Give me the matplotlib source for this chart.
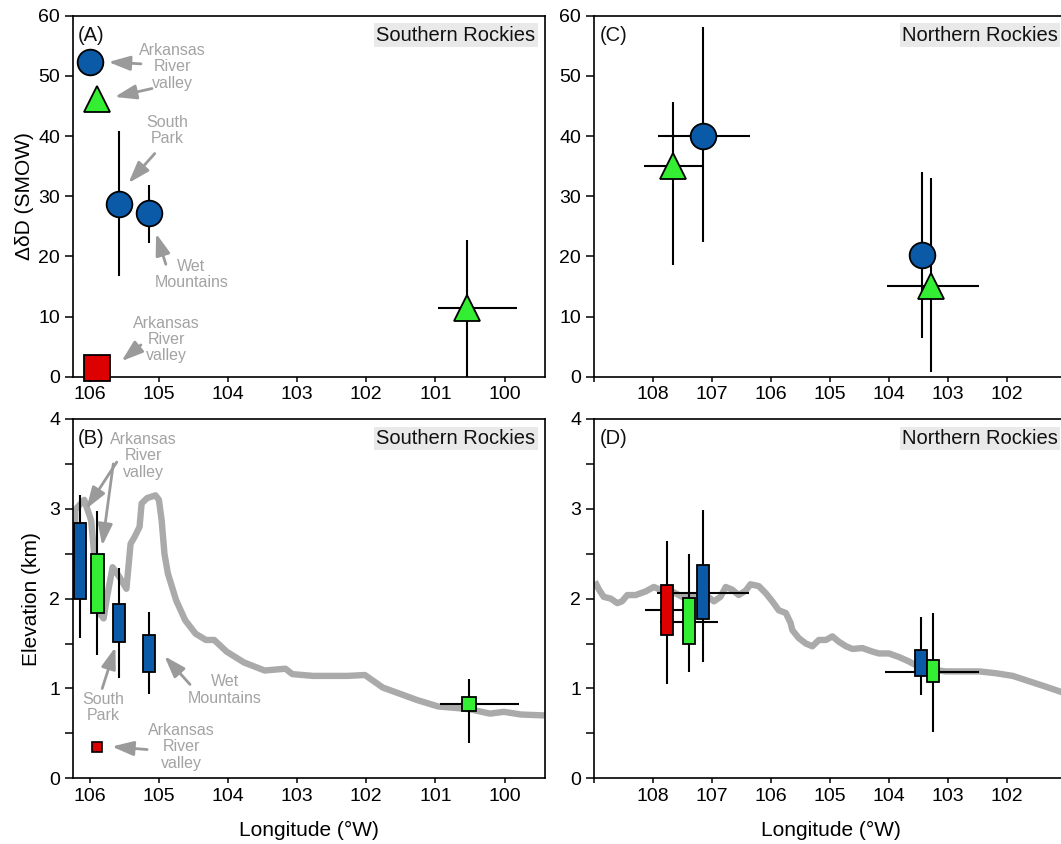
import matplotlib
matplotlib.use("Agg")
import matplotlib.pyplot as plt
import numpy as np

plt.rcParams['font.family'] = ['Liberation Sans', 'DejaVu Sans']

# ---------------- data ----------------
BLUE = '#0b5aa8'
GREEN = '#33ee33'
RED = '#dd0000'

# (A) Southern Rockies, delta-delta-D (SMOW)
sr_circle_lon = [106.00, 105.58, 105.15]
sr_circle_dd = [52.3, 28.7, 27.25]
sr_circle_lo = [52.3, 16.7, 22.2]
sr_circle_hi = [52.3, 40.9, 31.8]

sr_tri_lon = [105.89, 100.54]
sr_tri_dd = [46.1, 11.5]
sr_tri_lo = [46.1, 0.0]
sr_tri_hi = [46.1, 22.8]
sr_tri_west = [105.89, 100.96]
sr_tri_east = [105.89, 99.82]

sr_sq_lon = [105.90]
sr_sq_dd = [1.4]

# (B) Southern Rockies, elevation estimates (km)
sr_box_lon = [106.14, 105.89, 105.58, 105.14]
sr_box_q1 = [2.00, 1.84, 1.52, 1.18]
sr_box_q3 = [2.84, 2.50, 1.94, 1.60]
sr_box_min = [1.56, 1.37, 1.12, 0.94]
sr_box_max = [3.15, 2.975, 2.34, 1.85]
sr_box_col = [BLUE, GREEN, BLUE, BLUE]

sr_red_lon = [105.89]
sr_red_elev = [0.353]

sr_gsq_lon = [100.51]
sr_gsq_elev = [0.83]
sr_gsq_lo = [0.39]
sr_gsq_hi = [1.10]
sr_gsq_west = [100.93]
sr_gsq_east = [99.79]

sr_prof_lon = [106.22, 106.21, 106.08, 105.98, 105.92, 105.85, 105.80, 105.75,
               105.67, 105.57, 105.47, 105.41, 105.35, 105.28, 105.25, 105.17,
               105.05, 105.00, 104.96, 104.92, 104.87, 104.75, 104.62, 104.47,
               104.32, 104.20, 104.02, 103.77, 103.47, 103.17, 103.07, 102.77,
               102.27, 102.02, 101.76, 101.26, 100.96, 100.51, 100.21, 100.01,
               99.76, 99.42]
sr_prof_elev = [2.35, 2.99, 3.10, 2.87, 2.35, 1.83, 1.78, 2.02,
                2.35, 2.24, 2.11, 2.61, 2.69, 2.80, 3.06, 3.12,
                3.15, 3.10, 2.87, 2.50, 2.28, 1.98, 1.76, 1.61,
                1.54, 1.54, 1.41, 1.29, 1.20, 1.22, 1.16, 1.14,
                1.14, 1.15, 1.01, 0.87, 0.80, 0.77, 0.72, 0.74,
                0.71, 0.70]

# (C) Northern Rockies, delta-delta-D (SMOW)
nr_circle_lon = [107.15, 103.44]
nr_circle_dd = [40.0, 20.3]
nr_circle_lo = [22.4, 6.5]
nr_circle_hi = [58.1, 34.0]
nr_circle_west = [107.92, 103.44]
nr_circle_east = [106.36, 103.44]

nr_tri_lon = [107.67, 103.28]
nr_tri_dd = [35.0, 15.1]
nr_tri_lo = [18.6, 0.8]
nr_tri_hi = [45.7, 33.0]
nr_tri_west = [108.15, 104.04]
nr_tri_east = [107.16, 102.48]

# (D) Northern Rockies, elevation estimates (km)
nr_box_lon = [107.76, 107.39, 107.15, 103.46, 103.26]
nr_box_q1 = [1.596, 1.492, 1.770, 1.143, 1.069]
nr_box_q3 = [2.152, 2.004, 2.371, 1.429, 1.317]
nr_box_min = [1.046, 1.187, 1.291, 0.928, 0.512]
nr_box_max = [2.642, 2.497, 2.987, 1.792, 1.844]
nr_box_col = [RED, GREEN, BLUE, BLUE, GREEN]

nr_hbar_elev = [1.874, 1.744, 2.067, 1.187]
nr_hbar_west = [108.14, 107.89, 107.94, 104.06]
nr_hbar_east = [107.38, 106.90, 106.38, 102.47]

nr_prof_lon = [108.99, 108.92, 108.84, 108.72, 108.61, 108.53, 108.44, 108.30,
               108.13, 107.99, 107.88, 107.68, 107.51, 107.28, 107.11, 106.97,
               106.86, 106.77, 106.66, 106.55, 106.43, 106.35, 106.21, 106.09,
               105.98, 105.87, 105.75, 105.67, 105.64, 105.53, 105.41, 105.30,
               105.19, 105.07, 104.96, 104.85, 104.73, 104.62, 104.45, 104.28,
               104.17, 104.00, 103.83, 103.66, 103.49, 103.26, 103.04, 102.70,
               102.47, 102.19, 101.90, 101.62, 101.34, 101.07, 100.98]
nr_prof_elev = [2.19, 2.10, 2.02, 2.00, 1.95, 1.97, 2.04, 2.04,
                2.08, 2.13, 2.10, 2.08, 2.02, 2.02, 2.04, 1.97,
                2.02, 2.13, 2.10, 2.04, 2.09, 2.16, 2.14, 2.06,
                1.97, 1.87, 1.84, 1.73, 1.65, 1.56, 1.50, 1.47,
                1.54, 1.54, 1.58, 1.52, 1.47, 1.44, 1.45, 1.41,
                1.39, 1.39, 1.35, 1.30, 1.24, 1.21, 1.19, 1.19,
                1.19, 1.17, 1.14, 1.08, 1.02, 0.96, 0.94]

ticks_sr = [106, 105, 104, 103, 102, 101, 100]
ticks_nr = [109, 108, 107, 106, 105, 104, 103, 102]
tick_labels_nr = ['', '108', '107', '106', '105', '104', '103', '102']

# ---------------- styling ----------------
W, H = 1061, 844
fig = plt.figure(figsize=(W / 100, H / 100), dpi=100)


def frac(left, top, right, bottom):
    return [left / W, 1 - bottom / H, (right - left) / W, (bottom - top) / H]


axA = fig.add_axes(frac(73.2, 15.7, 544.6, 376.8))
axB = fig.add_axes(frac(73.2, 419.0, 544.6, 778.3))
axC = fig.add_axes(frac(594.3, 15.7, 1067.0, 376.8))
axD = fig.add_axes(frac(594.3, 419.0, 1067.0, 778.3))

PROF = '#aaaaaa'
NOTE = '#a3a3a3'
ARROW = '#9a9a9a'
EB_LW = 1.5
MS = 18.5


def style_axis(ax, xlim, xticks, xlabels, ylim, yticks, ylabels):
    ax.set_xlim(*xlim)
    ax.set_ylim(*ylim)
    ax.set_xticks(xticks)
    ax.set_xticklabels(xlabels)
    ax.set_yticks(yticks)
    ax.set_yticklabels(ylabels)
    for s in ax.spines.values():
        s.set_linewidth(1.2)
    ax.tick_params(axis='x', length=3.8, width=1.1, pad=3, labelsize=14)
    ax.tick_params(axis='y', length=6.0, width=1.1, pad=3.5, labelsize=14)


def corner_labels(ax, letter, region):
    ax.annotate(letter, xy=(0, 1), xycoords='axes fraction',
                xytext=(5, -25), textcoords='offset pixels',
                ha='left', va='baseline', fontsize=14.5, color='#111111')
    ax.annotate(region, xy=(1, 1), xycoords='axes fraction',
                xytext=(-9, -25), textcoords='offset pixels',
                ha='right', va='baseline', fontsize=14.5, color='#111111',
                bbox=dict(boxstyle='square,pad=0.12', fc='#e9e9e9', ec='none'))


def note(ax, text, xy):
    ax.text(xy[0], xy[1], text, ha='center', va='center', fontsize=11.5,
            color=NOTE, linespacing=1.12, zorder=6)


def arrow(ax, tail, head):
    ax.annotate('', xy=head, xytext=tail,
                arrowprops=dict(arrowstyle='-|>,head_length=0.65,head_width=0.22',
                                mutation_scale=20, lw=2.0, color=ARROW,
                                shrinkA=0, shrinkB=0), zorder=6)


def boxes(ax, lon, q1, q3, lo, hi, cols, width):
    lon = np.asarray(lon)
    q1 = np.asarray(q1)
    q3 = np.asarray(q3)
    ax.vlines(lon, lo, hi, colors='black', lw=EB_LW, zorder=3)
    ax.bar(lon, q3 - q1, bottom=q1, width=width, color=cols,
           edgecolor='black', linewidth=1.3, zorder=4)


# ---------------- (A) ----------------
ax = axA
style_axis(ax, (106.24, 99.42), ticks_sr, [str(t) for t in ticks_sr],
           (0, 60), range(0, 61, 10), [str(v) for v in range(0, 61, 10)])
ax.vlines(sr_circle_lon, sr_circle_lo, sr_circle_hi, colors='black', lw=EB_LW, zorder=3)
ax.vlines(sr_tri_lon, sr_tri_lo, sr_tri_hi, colors='black', lw=EB_LW, zorder=3)
ax.hlines(sr_tri_dd, sr_tri_west, sr_tri_east, colors='black', lw=EB_LW, zorder=3)
ax.plot(sr_circle_lon, sr_circle_dd, 'o', ms=MS, mfc=BLUE, mec='black', mew=1.3, zorder=5)
ax.plot(sr_tri_lon, sr_tri_dd, '^', ms=MS, mfc=GREEN, mec='black', mew=1.3, zorder=5)
ax.plot(sr_sq_lon, sr_sq_dd, 's', ms=MS, mfc=RED, mec='black', mew=1.3, zorder=5,
        clip_on=False)
ax.set_ylabel('\u0394\u03b4D (SMOW)', fontsize=15, labelpad=3)
corner_labels(ax, '(A)', 'Southern Rockies')

note(ax, 'Arkansas\nRiver\nvalley', (104.80, 51.5))
arrow(ax, (105.26, 52.0), (105.73, 52.3))
arrow(ax, (105.10, 47.9), (105.64, 46.5))
note(ax, 'South\nPark', (104.88, 40.9))
arrow(ax, (105.06, 37.1), (105.44, 32.2))
note(ax, 'Wet\nMountains', (104.53, 17.0))
arrow(ax, (104.90, 18.7), (105.04, 23.8))
note(ax, 'Arkansas\nRiver\nvalley', (104.89, 6.2))
arrow(ax, (105.26, 5.3), (105.54, 2.6))

# ---------------- (B) ----------------
ax = axB
style_axis(ax, (106.24, 99.42), ticks_sr, [str(t) for t in ticks_sr],
           (0, 4), np.arange(0, 4.01, 0.5),
           ['0', '', '1', '', '2', '', '3', '', '4'])
ax.plot(sr_prof_lon, sr_prof_elev, color=PROF, lw=4.6, zorder=2,
        solid_joinstyle='round', solid_capstyle='butt')
boxes(ax, sr_box_lon, sr_box_q1, sr_box_q3, sr_box_min, sr_box_max, sr_box_col, 0.18)
ax.plot(sr_red_lon, sr_red_elev, 's', ms=7, mfc=RED, mec='black', mew=1.2, zorder=5)
ax.vlines(sr_gsq_lon, sr_gsq_lo, sr_gsq_hi, colors='black', lw=EB_LW, zorder=3)
ax.hlines(sr_gsq_elev, sr_gsq_west, sr_gsq_east, colors='black', lw=EB_LW, zorder=3)
ax.plot(sr_gsq_lon, sr_gsq_elev, 's', ms=9.5, mfc=GREEN, mec='black', mew=1.3, zorder=5)
ax.set_ylabel('Elevation (km)', fontsize=15, labelpad=6)
ax.set_xlabel('Longitude (\u00b0W)', fontsize=15, labelpad=12)
corner_labels(ax, '(B)', 'Southern Rockies')

note(ax, 'Arkansas\nRiver\nvalley', (105.22, 3.59))
arrow(ax, (105.61, 3.52), (106.05, 3.00))
arrow(ax, (105.66, 3.50), (105.82, 2.59))
note(ax, 'South\nPark', (105.81, 0.79))
arrow(ax, (105.82, 1.00), (105.63, 1.46))
note(ax, 'Wet\nMountains', (104.05, 0.985))
arrow(ax, (104.55, 1.045), (104.92, 1.36))
note(ax, 'Arkansas\nRiver\nvalley', (104.67, 0.35))
arrow(ax, (105.17, 0.32), (105.68, 0.353))

# ---------------- (C) ----------------
ax = axC
style_axis(ax, (109.0, 100.98), ticks_nr, tick_labels_nr,
           (0, 60), range(0, 61, 10), [str(v) for v in range(0, 61, 10)])
ax.vlines(nr_circle_lon, nr_circle_lo, nr_circle_hi, colors='black', lw=EB_LW, zorder=3)
ax.hlines(nr_circle_dd, nr_circle_west, nr_circle_east, colors='black', lw=EB_LW, zorder=3)
ax.vlines(nr_tri_lon, nr_tri_lo, nr_tri_hi, colors='black', lw=EB_LW, zorder=3)
ax.hlines(nr_tri_dd, nr_tri_west, nr_tri_east, colors='black', lw=EB_LW, zorder=3)
ax.plot(nr_circle_lon, nr_circle_dd, 'o', ms=MS, mfc=BLUE, mec='black', mew=1.3, zorder=5)
ax.plot(nr_tri_lon, nr_tri_dd, '^', ms=MS, mfc=GREEN, mec='black', mew=1.3, zorder=5)
corner_labels(ax, '(C)', 'Northern Rockies')

# ---------------- (D) ----------------
ax = axD
style_axis(ax, (109.0, 100.98), ticks_nr, tick_labels_nr,
           (0, 4), np.arange(0, 4.01, 0.5),
           ['0', '', '1', '', '2', '', '3', '', '4'])
ax.plot(nr_prof_lon, nr_prof_elev, color=PROF, lw=4.6, zorder=2,
        solid_joinstyle='round', solid_capstyle='butt')
ax.hlines(nr_hbar_elev, nr_hbar_west, nr_hbar_east, colors='black', lw=EB_LW, zorder=3)
boxes(ax, nr_box_lon, nr_box_q1, nr_box_q3, nr_box_min, nr_box_max, nr_box_col, 0.2)
ax.set_xlabel('Longitude (\u00b0W)', fontsize=15, labelpad=12)
corner_labels(ax, '(D)', 'Northern Rockies')

fig.savefig('out.png', dpi=100)
